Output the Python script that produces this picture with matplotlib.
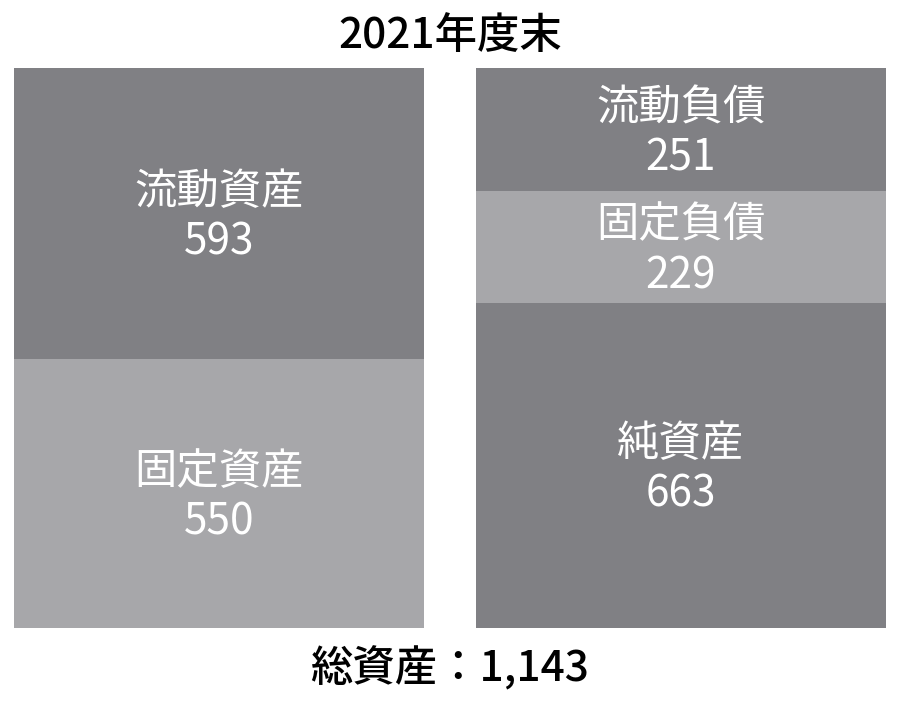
import matplotlib
matplotlib.use("Agg")
import matplotlib.pyplot as plt
from matplotlib.transforms import offset_copy

plt.rcParams["font.family"] = ["Noto Sans CJK JP", "DejaVu Sans"]

TITLE = "2021年度末"
FOOTER = "総資産：1,143"

# left column: assets, right column: liabilities + net assets (top to bottom)
asset_labels = ["流動資産", "固定資産"]
asset_values = [593, 550]
liab_labels = ["流動負債", "固定負債", "純資産"]
liab_values = [251, 229, 663]

DARK = "#808084"
LIGHT = "#a7a7aa"
asset_colors = [DARK, LIGHT]
liab_colors = [DARK, LIGHT, DARK]


def stack(ax, x, labels, values, colors, width):
    # nudge labels a few pixels down, matplotlib centres them a bit high
    trans = offset_copy(ax.transData, fig=ax.figure, x=0, y=-4, units="dots")
    bottom = 0
    for label, val, col in zip(labels, values, colors):
        ax.bar(x, val, bottom=bottom, width=width, color=col, align="center",
               linewidth=0)
        ax.text(x, bottom + val / 2, f"{label}\n{val}", ha="center", va="center",
                color="white", fontsize=30.5, linespacing=1.2, transform=trans)
        bottom += val


def main():
    fig = plt.figure(figsize=(9, 7.22), dpi=100)
    ax = fig.add_axes([14 / 900, (722 - 628) / 722, 872 / 900, 560 / 722])

    w = 410 / 462
    stack(ax, 0, asset_labels, asset_values, asset_colors, w)
    stack(ax, 1, liab_labels, liab_values, liab_colors, w)

    total = sum(asset_values)
    ax.set_xlim(-w / 2, 1 + w / 2)
    ax.set_ylim(total, 0)
    ax.axis("off")

    fig.text(0.5, 1 - 35 / 722, TITLE, ha="center", va="center",
             fontsize=30.5, fontweight="medium", color="black")
    fig.text(0.5, 1 - 668 / 722, FOOTER, ha="center", va="center",
             fontsize=30.5, fontweight="medium", color="black")

    fig.savefig("out.png", dpi=100, facecolor="white")


if __name__ == "__main__":
    main()
